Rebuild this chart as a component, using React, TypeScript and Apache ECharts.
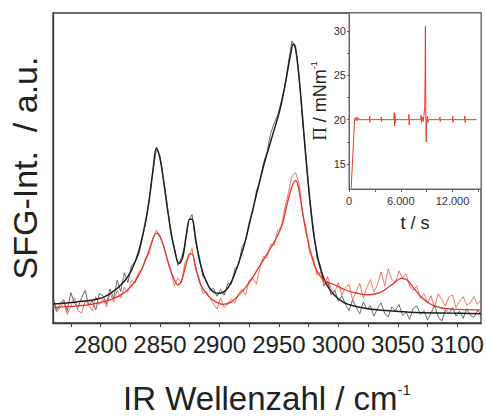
import React, { useEffect, useRef } from "react";
import * as echarts from "echarts";

// Main spectrum: wavenumber grid for raw data (cm^-1), step 3
const rawStart = 2760;
const rawStep = 3;
const blackRaw = [
  8.5, 4.0, 6.2, 7.5, 3.8, 9.8, 6.5, 5.0, 8.0, 10.5, 5.8, 7.2, 4.2, 9.6, 8.8, 6.2, 11.0, 8.0, 13.8, 10.2,
  16.2, 13.0, 18.5, 19.8, 22.0, 27.0, 32.5,
  40.0, 49.0, 56.0, 54.0, 46.0, 38.5, 29.0, 24.5, 18.5, 21.0, 25.0, 33.0, 35.0, 26.0, 21.5, 15.0, 13.8, 10.5,
  11.2, 8.6, 10.8, 9.0, 12.8, 12.5, 17.5, 18.8, 24.5, 26.5, 32.5, 35.8, 42.5, 45.5, 51.5, 55.0, 61.0, 64.5,
  67.0, 71.5, 76.0, 84.0, 91.0, 89.5, 80.0, 64.5, 53.0, 39.0, 30.5, 21.0, 18.5,
  12.0, 13.5, 9.0, 10.5, 7.0, 8.8, 6.0, 4.0, 7.5, 5.0, 3.0, 6.8, 4.5, 5.5, 2.2, 4.8, 6.5, 3.0, 2.0, 5.2, 4.0,
  6.0, 2.5, 3.5, 1.2, 4.8, 5.5, 2.8, 4.0, 1.0, 3.2, 5.8, 2.0, 0.6, 4.2, 3.0, 5.0, 2.2, 3.8, 1.5, 4.6, 2.5, 1.8,
  4.0, 3.0,
];
const redRaw = [
  7.0, 3.5, 5.0, 6.8, 2.8, 5.5, 8.2, 4.0, 3.2, 7.0, 5.8, 4.0, 8.5, 6.0, 7.8, 5.2, 9.8, 6.8, 10.5, 8.0,
  11.5, 10.0, 13.8, 12.8, 16.5, 17.5, 21.0,
  22.5, 27.5, 30.0, 27.5, 25.0, 20.5, 17.5, 12.0, 14.5, 13.0, 19.5, 21.0, 24.0, 17.0, 14.5, 9.5, 10.2,
  8.0, 6.2, 4.5, 8.2, 5.0, 6.0, 7.8, 6.5, 9.5, 10.8, 9.0, 13.8, 14.5, 12.5, 17.8,
  21.5, 21.0, 25.5, 25.0, 30.0, 31.0, 37.0, 42.0, 47.5, 48.5, 45.0, 35.0, 30.5, 22.5, 21.0, 15.5, 16.5,
  12.0, 15.0, 11.0, 10.0, 13.0, 9.0, 11.5, 12.5, 7.5, 10.0, 12.8, 8.0, 11.5, 14.0, 10.0, 12.5, 16.5, 12.0,
  17.5, 14.0, 13.0, 16.8, 14.5, 15.8, 12.0, 10.5, 12.0, 8.0, 9.5, 6.5, 8.8, 5.0, 9.5, 7.5, 5.5, 8.5, 9.0, 5.0,
  7.0, 8.5, 5.8, 6.5, 8.5, 6.0, 7.5,
];

// Fit curves: [wavenumber, intensity]
const blackFitX = [2760, 2780, 2800, 2810, 2820, 2826, 2832, 2838, 2841, 2844, 2847, 2850, 2853, 2856, 2859, 2862, 2866, 2869, 2872, 2875, 2877, 2880, 2884, 2890, 2896, 2900, 2906, 2912, 2920, 2928, 2937, 2945, 2951, 2956, 2960, 2962, 2964, 2967, 2970, 2973, 2976, 2979, 2982, 2985, 2990, 2996, 3003, 3010, 3025, 3040, 3060, 3090, 3120];
const blackFitY = [6.1, 6.8, 8.0, 10.0, 13.5, 17.0, 23.0, 33.0, 40.0, 49.0, 56.5, 53.0, 46.0, 37.5, 30.0, 24.0, 19.2, 21, 28, 33.5, 33.5, 27, 19, 12.5, 9.8, 9.6, 10.8, 15, 24, 36.5, 50.5, 61, 69, 78.5, 87, 90, 88.5, 79, 66, 52, 40, 29.5, 22.5, 17.5, 12.5, 9.3, 7, 5.8, 4.6, 4.0, 3.5, 3.2, 3.0];
const redFitX = [2760, 2780, 2800, 2815, 2825, 2833, 2839, 2843, 2847, 2850, 2854, 2858, 2862, 2865, 2868, 2872, 2875, 2877, 2880, 2884, 2890, 2897, 2903, 2910, 2917, 2925, 2934, 2942, 2948, 2953, 2957, 2961, 2964, 2966, 2969, 2972, 2976, 2980, 2985, 2990, 2996, 3005, 3015, 3025, 3035, 3045, 3053, 3058, 3064, 3070, 3077, 3085, 3095, 3110, 3120];
const redFitY = [5.0, 5.5, 6.6, 8.6, 11.5, 16, 21.5, 26, 29, 28, 23.5, 18, 14, 12.3, 13.5, 19, 22.3, 22.3, 18, 12.5, 9, 6.8, 6.0, 6.8, 9.3, 13, 18.5, 23.5, 27.5, 32, 38.5, 44, 46, 44.5, 38, 31, 24, 18.5, 15, 13.2, 12.5, 10.8, 9.6, 9.1, 9.8, 12.3, 14.4, 13.8, 11, 8.3, 6.2, 5.0, 4.5, 4.3, 4.2];

// Inset: surface pressure vs time
const insetT = [250, 650, 700, 800, 900, 1000, 1100, 1200, 2350, 2400, 2420, 2450, 3700, 3750, 3780, 3800, 5200, 5250, 5280, 5320, 5350, 5400, 6900, 6950, 6980, 7000, 8300, 8350, 8400, 8500, 8600, 8700, 8780, 8820, 8850, 8880, 8900, 8950, 9000, 9100, 9150, 9200, 10500, 10550, 10580, 10600, 12000, 12030, 12060, 12100, 13400, 13430, 13460, 13500, 14800];
const insetP = [12.3, 20.0, 20.2, 19.9, 20.3, 19.9, 20.2, 20.0, 20.0, 20.4, 19.7, 20.0, 20.0, 20.3, 19.8, 20.0, 20.0, 20.8, 19.3, 20.6, 19.6, 20.0, 20.0, 20.6, 19.4, 20.0, 20.0, 20.5, 19.7, 20.3, 19.8, 20.6, 21.5, 25.0, 30.5, 27.0, 20.5, 17.5, 20.0, 20.4, 19.7, 20.0, 20.0, 20.3, 19.8, 20.0, 20.0, 20.4, 19.7, 20.0, 20.0, 20.4, 19.7, 20.0, 20.0];

const mainTicks = [2775, 2800, 2825, 2850, 2875, 2900, 2925, 2950, 2975, 3000, 3025, 3050, 3075, 3100];
const mainLabels = [2800, 2850, 2900, 2950, 3000, 3050, 3100];
const insetXTicks = [0, 3000, 6000, 9000, 12000, 15000];
const insetXLabels = [0, 6000, 12000];
const insetYTicks = [15, 17.5, 20, 22.5, 25, 27.5, 30];
const insetYLabels = [15, 20, 25, 30];

const FONT = "'Liberation Sans', Arial, Helvetica, sans-serif";

export default function App() {
  const ref = useRef<HTMLDivElement>(null);
  useEffect(() => {
    if (!ref.current) return;
    const chart = echarts.init(ref.current, null, { renderer: "svg" });
    const rawB = blackRaw.map((v, i) => [rawStart + i * rawStep, v]);
    const rawR = redRaw.map((v, i) => [rawStart + i * rawStep, v]);
    const fitB = blackFitX.map((x, i) => [x, blackFitY[i]]);
    const fitR = redFitX.map((x, i) => [x, redFitY[i]]);
    const inset = insetT.map((t, i) => [t, insetP[i]]);
    chart.setOption({
      animation: false,
      backgroundColor: "#fff",
      textStyle: { fontFamily: FONT },
      grid: [
        { left: 53, top: 13, width: 428, height: 310, show: true, borderColor: "#3a3a3a", borderWidth: 1.3, backgroundColor: "transparent", containLabel: false, outerBoundsMode: "none" },
        { left: 349, top: 13, width: 132, height: 176, show: true, borderColor: "#666", borderWidth: 1, backgroundColor: "#fff", containLabel: false, outerBoundsMode: "none" },
      ],
      xAxis: [
        {
          type: "value", gridIndex: 0, min: 2760, max: 3120,
          axisLine: { show: true, lineStyle: { color: "#3a3a3a", width: 1.3 } },
          axisTick: { show: true, customValues: mainTicks, length: 4, lineStyle: { color: "#3a3a3a" } },
          axisLabel: { customValues: mainLabels, fontSize: 24, color: "#222", margin: 9, fontFamily: FONT, formatter: (v: number) => String(v) },
          splitLine: { show: false },
          name: "{a|IR Wellenzahl / cm}{s|-1}",
          nameLocation: "middle",
          nameGap: 59,
          nameTextStyle: {
            rich: {
              a: { fontSize: 33, color: "#222", fontFamily: FONT, lineHeight: 33 },
              s: { fontSize: 15, color: "#222", fontFamily: FONT, verticalAlign: "top", lineHeight: 15 },
            },
          },
        },
        {
          type: "value", gridIndex: 1, min: 0, max: 15300,
          axisLine: { show: true, lineStyle: { color: "#666" } },
          axisTick: { show: true, customValues: insetXTicks, length: 3, lineStyle: { color: "#666" } },
          axisLabel: {
            customValues: insetXLabels, fontSize: 11, color: "#333", margin: 6, fontFamily: FONT,
            formatter: (v: number) => (v >= 1000 ? `${Math.floor(v / 1000)}.${String(v % 1000).padStart(3, "0")}` : `${v}`),
          },
          splitLine: { show: false },
          name: "t / s",
          nameLocation: "middle",
          nameGap: 25,
          nameTextStyle: { fontSize: 18, color: "#222", fontFamily: FONT },
        },
      ],
      yAxis: [
        {
          type: "value", gridIndex: 0, min: 0, max: 100,
          axisLine: { show: true, lineStyle: { color: "#3a3a3a", width: 1.3 } },
          axisTick: { show: false },
          axisLabel: { show: false },
          splitLine: { show: false },
          name: "SFG-Int.  / a.u.",
          nameLocation: "middle",
          nameGap: 11,
          nameTextStyle: { fontSize: 34, color: "#222", fontFamily: FONT },
        },
        {
          type: "value", gridIndex: 1, min: 12.2, max: 32,
          axisLine: { show: true, lineStyle: { color: "#666" } },
          axisTick: { show: true, customValues: insetYTicks, length: 2, lineStyle: { color: "#666" } },
          axisLabel: { customValues: insetYLabels, fontSize: 11, color: "#333", margin: 3, fontFamily: FONT },
          splitLine: { show: false },
          name: "{p|\u03A0} / mNm{s|-1}",
          nameLocation: "middle",
          nameGap: 17,
          nameTextStyle: {
            rich: {
              p: { fontSize: 19, color: "#222", fontFamily: "'Liberation Serif', 'DejaVu Serif', serif", lineHeight: 20 },
              s: { fontSize: 9, color: "#222", fontFamily: FONT, verticalAlign: "top", lineHeight: 9 },
            },
            fontSize: 18, color: "#222", fontFamily: FONT, lineHeight: 20,
          },
        },
      ],
      series: [
        { type: "line", xAxisIndex: 0, yAxisIndex: 0, data: rawB, showSymbol: false, lineStyle: { color: "#444", width: 0.8 }, z: 2 },
        { type: "line", xAxisIndex: 0, yAxisIndex: 0, data: rawR, showSymbol: false, lineStyle: { color: "#ee5444", width: 0.8 }, z: 2 },
        { type: "line", xAxisIndex: 0, yAxisIndex: 0, data: fitB, showSymbol: false, smooth: 0.35, lineStyle: { color: "#1e1e1e", width: 1.5 }, z: 3 },
        { type: "line", xAxisIndex: 0, yAxisIndex: 0, data: fitR, showSymbol: false, smooth: 0.35, lineStyle: { color: "#e5332a", width: 1.3 }, z: 3 },
        { type: "line", xAxisIndex: 1, yAxisIndex: 1, data: inset, showSymbol: false, lineStyle: { color: "#ee3a2e", width: 1 }, z: 4 },
      ],
    });
    return () => chart.dispose();
  }, []);
  return <div ref={ref} style={{ position: "fixed", left: 0, top: 0, width: 486, height: 416, background: "#fff" }} />;
}
